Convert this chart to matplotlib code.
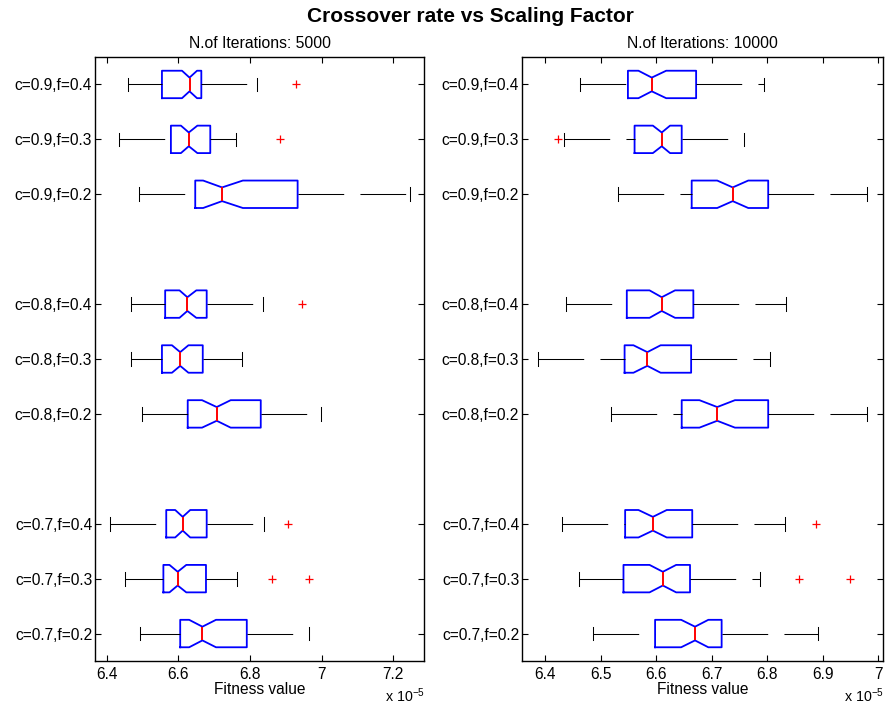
import matplotlib
matplotlib.use("Agg")
import matplotlib.pyplot as plt

plt.rcParams['font.family'] = ['Liberation Sans', 'DejaVu Sans']

# ---------------- data (fitness values in units of 1e-5) ----------------
labels = ["c=0.7,f=0.2", "c=0.7,f=0.3", "c=0.7,f=0.4",
          "c=0.8,f=0.2", "c=0.8,f=0.3", "c=0.8,f=0.4",
          "c=0.9,f=0.2", "c=0.9,f=0.3", "c=0.9,f=0.4"]
positions = [1, 2, 3, 5, 6, 7, 9, 10, 11]

# N. of iterations 5000
it5000_whislo = [6.493, 6.452, 6.409, 6.498, 6.468, 6.468, 6.491, 6.433, 6.459]
it5000_q1     = [6.605, 6.558, 6.566, 6.626, 6.554, 6.563, 6.647, 6.579, 6.554]
it5000_cilo   = [6.630, 6.575, 6.591, 6.666, 6.582, 6.603, 6.669, 6.607, 6.610]
it5000_med    = [6.667, 6.598, 6.612, 6.707, 6.605, 6.625, 6.722, 6.629, 6.631]
it5000_cihi   = [6.705, 6.622, 6.633, 6.746, 6.628, 6.650, 6.780, 6.653, 6.652]
it5000_q3     = [6.791, 6.677, 6.679, 6.830, 6.668, 6.679, 6.933, 6.689, 6.664]
it5000_whishi = [6.966, 6.764, 6.838, 6.997, 6.779, 6.835, 7.246, 6.762, 6.820]
it5000_fliers = [[], [6.862, 6.964], [6.906], [], [], [6.944], [], [6.883], [6.929]]

# N. of iterations 10000
it10000_whislo = [6.486, 6.460, 6.430, 6.519, 6.387, 6.438, 6.532, 6.433, 6.462]
it10000_q1     = [6.598, 6.541, 6.544, 6.646, 6.543, 6.547, 6.664, 6.561, 6.549]
it10000_cilo   = [6.645, 6.588, 6.568, 6.678, 6.559, 6.588, 6.710, 6.594, 6.568]
it10000_med    = [6.670, 6.612, 6.594, 6.710, 6.584, 6.610, 6.738, 6.610, 6.592]
it10000_cihi   = [6.694, 6.636, 6.619, 6.742, 6.608, 6.634, 6.766, 6.625, 6.618]
it10000_q3     = [6.718, 6.661, 6.665, 6.802, 6.663, 6.667, 6.802, 6.646, 6.672]
it10000_whishi = [6.892, 6.787, 6.833, 6.980, 6.806, 6.834, 6.980, 6.758, 6.794]
it10000_fliers = [[], [6.857, 6.950], [6.889], [], [], [], [], [6.423], []]

left_xticks = [6.4, 6.6, 6.8, 7.0, 7.2]
left_xticklabels = ["6.4", "6.6", "6.8", "7", "7.2"]
right_xticks = [6.4, 6.5, 6.6, 6.7, 6.8, 6.9, 7.0]
right_xticklabels = ["6.4", "6.5", "6.6", "6.7", "6.8", "6.9", "7"]

titles = ["N.of Iterations: 5000", "N.of Iterations: 10000"]
main_title = "Crossover rate vs Scaling Factor"
xlabel = "Fitness value"


def make_stats(wl, q1, cl, md, ch, q3, wh, fl):
    out = []
    for i in range(len(md)):
        out.append(dict(whislo=wl[i], q1=q1[i], cilo=cl[i], med=md[i],
                        cihi=ch[i], q3=q3[i], whishi=wh[i], fliers=fl[i]))
    return out


stats_l = make_stats(it5000_whislo, it5000_q1, it5000_cilo, it5000_med,
                     it5000_cihi, it5000_q3, it5000_whishi, it5000_fliers)
stats_r = make_stats(it10000_whislo, it10000_q1, it10000_cilo, it10000_med,
                     it10000_cihi, it10000_q3, it10000_whishi, it10000_fliers)

fig = plt.figure(figsize=(8.88, 7.06), dpi=100)
axL = fig.add_axes([95/888, 45/706, 329/888, 604/706])
axR = fig.add_axes([522/888, 45/706, 361/888, 604/706])

wlw = 0.75
dash = (0, (32.9 / wlw, 11.7 / wlw))

for ax, st, xl, xt, xtl, ttl in [
        (axL, stats_l, (6.367, 7.286), left_xticks, left_xticklabels, titles[0]),
        (axR, stats_r, (6.358, 7.009), right_xticks, right_xticklabels, titles[1])]:
    res = ax.bxp(st, positions=positions, widths=0.5, orientation='horizontal',
                 shownotches=True, showfliers=True, manage_ticks=False,
                 boxprops=dict(color='#0000ff', linewidth=1.3),
                 medianprops=dict(color='#ff0000', linewidth=1.4),
                 whiskerprops=dict(color='black', linewidth=wlw, linestyle=dash),
                 capprops=dict(color='black', linewidth=wlw),
                 flierprops=dict(marker='+', markeredgecolor='#ff0000',
                                 markersize=5.5, markeredgewidth=0.9, linestyle='none'))
    # MATLAB draws the lower whisker starting from its cap
    for w in res['whiskers'][0::2]:
        w.set_data(w.get_xdata()[::-1], w.get_ydata()[::-1])
    ax.set_xlim(*xl)
    ax.set_ylim(0.5, 11.5)
    ax.set_xticks(xt)
    ax.set_xticklabels(xtl)
    ax.set_yticks(positions)
    ax.set_yticklabels(labels)
    ax.tick_params(axis='both', direction='in', length=4.3, width=0.8,
                   labelsize=11.2, top=True, right=True, colors='black')
    ax.tick_params(axis='x', pad=4.0)
    ax.tick_params(axis='y', pad=2)
    for s in ax.spines.values():
        s.set_linewidth(1.0)
        s.set_color('black')
    ax.set_title(ttl, fontsize=11.3, pad=6.5)
    ax.set_xlabel(xlabel, fontsize=11.2, labelpad=0.5)
    ax.annotate("x 10$^{\\mathregular{-5}}$", xy=(1.0, 0.0), xycoords='axes fraction',
                xytext=(1, -29.5), textcoords='offset points', ha='right',
                va='baseline', fontsize=10.3)

fig.text(470/888, 1 - 17/706, main_title, ha='center', va='center',
         fontsize=15, fontweight='bold')

fig.savefig("out.png", dpi=100)
